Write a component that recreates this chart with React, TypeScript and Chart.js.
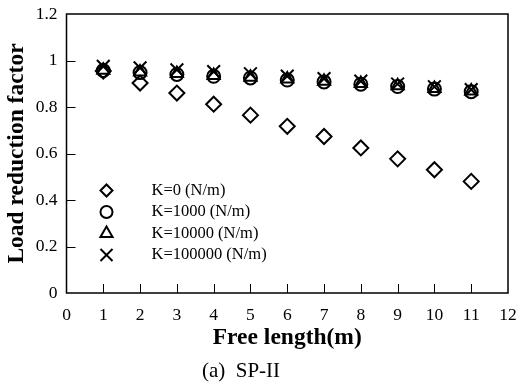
import React, { useEffect, useRef } from 'react';
import { Chart, registerables } from 'chart.js';
import { drawPoint } from 'chart.js/helpers';

Chart.register(...registerables);

const freeLength = [1, 2, 3, 4, 5, 6, 7, 8, 9, 10, 11];
const k0 = [0.955, 0.903, 0.86, 0.812, 0.765, 0.717, 0.673, 0.624, 0.577, 0.53, 0.48];
const k1000 = [0.957, 0.948, 0.94, 0.932, 0.925, 0.916, 0.908, 0.898, 0.888, 0.877, 0.866];
const k10000 = [0.958, 0.951, 0.944, 0.936, 0.928, 0.92, 0.911, 0.901, 0.891, 0.88, 0.869];
const k100000 = [0.975, 0.968, 0.96, 0.952, 0.943, 0.933, 0.922, 0.911, 0.899, 0.887, 0.875];
const seriesLabels = ['K=0 (N/m)', 'K=1000 (N/m)', 'K=10000 (N/m)', 'K=100000 (N/m)'];
const seriesValues = [k0, k1000, k10000, k100000];
const pointStyles = ['rectRot', 'circle', 'triangle', 'crossRot'];
const pointRadii = [7.5, 6.5, 7, 9];
const legendRadii = [6, 6, 7, 8.5];
const xAxisTitle = 'Free length(m)';
const yAxisTitle = 'Load reduction factor';
const caption = '(a)  SP-II';

const FONT = "'Liberation Serif', 'Times New Roman', serif";

const framePlugin = {
  id: 'frame',
  beforeDatasetsDraw(chart: any) {
    const { ctx, chartArea: a, scales } = chart;
    ctx.save();
    ctx.strokeStyle = '#000';
    ctx.lineWidth = 1.5;
    ctx.strokeRect(a.left, a.top, a.right - a.left, a.bottom - a.top);
    ctx.lineWidth = 1;
    const xs = scales.x;
    xs.ticks.forEach((t: any) => {
      if (t.value <= xs.min || t.value >= xs.max) return;
      const px = Math.round(xs.getPixelForValue(t.value)) + 0.5;
      ctx.beginPath();
      ctx.moveTo(px, a.bottom);
      ctx.lineTo(px, a.bottom - 9);
      ctx.stroke();
    });
    const ys = scales.y;
    ys.ticks.forEach((t: any) => {
      if (t.value <= ys.min + 1e-9 || t.value >= ys.max - 1e-9) return;
      const py = Math.round(ys.getPixelForValue(t.value)) + 0.5;
      ctx.beginPath();
      ctx.moveTo(a.left, py);
      ctx.lineTo(a.left + 9, py);
      ctx.stroke();
    });
    ctx.restore();
  },
  afterDraw(chart: any) {
    const { ctx, chartArea: a } = chart;
    ctx.save();
    ctx.fillStyle = '#000';
    ctx.textAlign = 'center';
    ctx.textBaseline = 'middle';
    ctx.font = `bold 23.5px ${FONT}`;
    ctx.fillText(xAxisTitle, (a.left + a.right) / 2, 338);
    ctx.save();
    ctx.translate(17, (a.top + a.bottom) / 2);
    ctx.rotate(-Math.PI / 2);
    ctx.fillText(yAxisTitle, 0, 0);
    ctx.restore();
    ctx.font = `21px ${FONT}`;
    ctx.fillText(caption, 241, 371);

    // legend
    ctx.font = `16.5px ${FONT}`;
    ctx.textAlign = 'left';
    seriesLabels.forEach((lab, i) => {
      const y = 190.5 + i * 21.5;
      ctx.strokeStyle = '#000';
      ctx.fillStyle = 'rgba(0,0,0,0)';
      ctx.lineWidth = 2;
      drawPoint(ctx, { pointStyle: pointStyles[i], radius: legendRadii[i], rotation: 0, borderWidth: 2 } as any, 106.5, y);
      ctx.fillStyle = '#000';
      ctx.fillText(lab, 151.5, y);
    });
    ctx.restore();
  },
};

const zeroPad = (s: any) => {
  s.paddingLeft = 0;
  s.paddingRight = 0;
  s.paddingTop = 0;
  s.paddingBottom = 0;
};

export default function App() {
  const ref = useRef<HTMLCanvasElement>(null);
  useEffect(() => {
    document.body.style.margin = '0';
    const canvas = ref.current;
    if (!canvas) return;
    const chart = new Chart(canvas, {
      type: 'scatter',
      data: {
        datasets: seriesValues.map((vals, i) => ({
          label: seriesLabels[i],
          data: vals.map((v, j) => ({ x: freeLength[j], y: v })),
          showLine: false,
          pointStyle: pointStyles[i] as any,
          pointRadius: pointRadii[i],
          pointHoverRadius: pointRadii[i],
          pointBorderWidth: 2,
          borderColor: '#000',
          backgroundColor: 'rgba(0,0,0,0)',
          pointBackgroundColor: 'rgba(0,0,0,0)',
          pointBorderColor: '#000',
        })),
      },
      options: {
        responsive: false,
        maintainAspectRatio: false,
        devicePixelRatio: 1,
        animation: false,
        layout: { padding: { top: 14, right: 11, left: 0, bottom: 0 } },
        plugins: {
          legend: { display: false },
          tooltip: { enabled: false },
        },
        scales: {
          x: {
            type: 'linear',
            min: 0,
            max: 12,
            grid: { display: false, drawTicks: false },
            border: { display: false },
            ticks: {
              stepSize: 1,
              color: '#000',
              font: { family: FONT, size: 17.5 },
              padding: 12,
              maxRotation: 0,
            },
            afterFit: (s: any) => {
              s.height = 96;
              zeroPad(s);
            },
          },
          y: {
            type: 'linear',
            min: 0,
            max: 1.2,
            grid: { display: false, drawTicks: false },
            border: { display: false },
            ticks: {
              stepSize: 0.2,
              color: '#000',
              font: { family: FONT, size: 17.5 },
              padding: 9,
              callback: (v: any) => String(Math.round(Number(v) * 10) / 10),
            },
            afterFit: (s: any) => {
              s.width = 66.5;
              zeroPad(s);
            },
          },
        },
      },
      plugins: [framePlugin],
    });
    return () => chart.destroy();
  }, []);
  return (
    <div style={{ width: 519, height: 389 }}>
      <canvas ref={ref} width={519} height={389} />
    </div>
  );
}
